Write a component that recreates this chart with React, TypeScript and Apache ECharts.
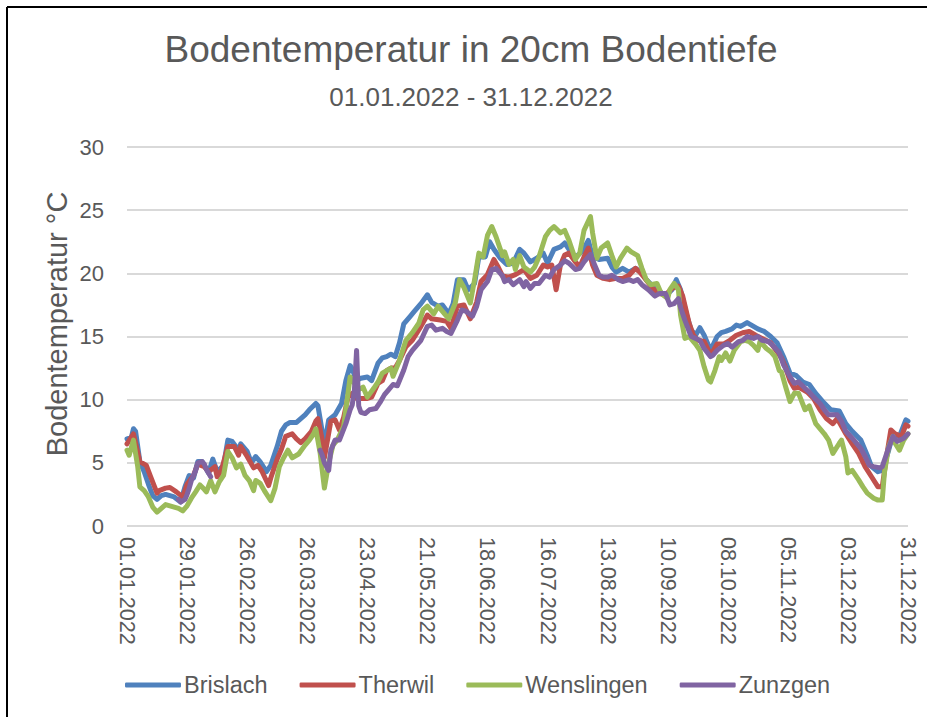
import React, { useEffect, useRef } from "react";
import * as echarts from "echarts";

const titleText = "Bodentemperatur in 20cm Bodentiefe";
const subtitleText = "01.01.2022 - 31.12.2022";
const yAxisName = "Bodentemperatur °C";
const seriesNames = ["Brislach", "Therwil", "Wenslingen", "Zunzgen"];
const seriesColors = ["#4F81BD", "#C0504D", "#9BBB59", "#8064A2"];
const yTicks = { min: 0, max: 30, interval: 5 };
const startDate = { year: 2022, month: 0, day: 1 };
const dayCount = 365;
const labelEvery = 28;

// [day index, temperature °C]
const brislach: [number, number][] = [
  [0, 6.9], [2, 7.0], [3, 7.7], [4, 7.5], [6, 5.1], [8, 4.3], [10, 3.3], [12, 2.4], [14, 2.1], [16, 2.4],
  [18, 2.5], [20, 2.4], [22, 2.3], [25, 1.9], [27, 3.1], [29, 4.0], [31, 3.8], [33, 5.1], [35, 5.1], [38, 4.2],
  [40, 5.3], [42, 4.3], [45, 4.8], [47, 6.8], [49, 6.7], [52, 6.0], [53, 6.5], [56, 5.9], [58, 5.0], [60, 5.5],
  [62, 5.1], [65, 4.3], [67, 4.8], [70, 6.3], [72, 7.5], [74, 8.0], [76, 8.2], [79, 8.2], [81, 8.5], [83, 8.8],
  [85, 9.2], [88, 9.7], [89, 9.5], [90, 8.5], [92, 6.4], [94, 8.4], [97, 8.8], [100, 9.7], [102, 11.5], [104, 12.7],
  [105, 12.4], [107, 11.5], [109, 11.7], [112, 11.8], [114, 11.5], [117, 12.9], [119, 13.3], [121, 13.4], [123, 13.6], [125, 13.4],
  [127, 14.5], [129, 16.0], [132, 16.6], [134, 17.0], [137, 17.6], [140, 18.3], [142, 17.7], [145, 17.4], [147, 17.5], [150, 16.8],
  [152, 17.6], [154, 19.5], [157, 19.5], [159, 18.7], [162, 19.2], [164, 21.3], [167, 21.3], [169, 22.5], [171, 21.9], [174, 21.2],
  [177, 20.7], [180, 20.8], [183, 21.9], [185, 21.6], [188, 20.9], [191, 21.2], [194, 21.6], [196, 20.8], [199, 21.9], [202, 22.1],
  [204, 22.4], [206, 21.9], [209, 21.3], [212, 21.7], [215, 22.6], [217, 21.3], [220, 21.1], [224, 21.2], [226, 20.5], [228, 20.1],
  [231, 20.4], [234, 20.1], [237, 20.4], [240, 20.0], [242, 19.5], [245, 19.0], [248, 18.6], [251, 18.2], [254, 18.7], [256, 19.5],
  [258, 18.7], [261, 16.6], [263, 15.5], [265, 15.1], [267, 15.7], [269, 15.1], [272, 13.9], [275, 15.0], [277, 15.3], [279, 15.4],
  [282, 15.6], [284, 15.9], [286, 15.8], [289, 16.1], [291, 15.9], [294, 15.6], [297, 15.4], [300, 15.0], [303, 14.5], [306, 13.4],
  [309, 12.1], [312, 11.9], [315, 11.4], [318, 11.2], [321, 10.5], [324, 9.9], [328, 9.2], [332, 9.1], [335, 8.1], [338, 7.5],
  [342, 6.8], [345, 5.6], [347, 4.7], [350, 4.3], [352, 4.4], [355, 6.0], [357, 7.3], [360, 7.1], [363, 8.4], [364, 8.3],
];

const therwil: [number, number][] = [
  [0, 6.5], [3, 7.3], [6, 5.1], [9, 4.8], [11, 3.9], [14, 2.6], [15, 2.8], [18, 3.0], [20, 3.05], [23, 2.7],
  [26, 2.3], [28, 3.3], [31, 4.0], [33, 4.9], [36, 4.7], [38, 4.3], [41, 4.7], [42, 3.9], [44, 4.4], [47, 6.3],
  [50, 6.3], [52, 5.6], [53, 6.3], [56, 5.5], [59, 4.6], [61, 4.8], [63, 4.3], [66, 3.2], [67, 3.8], [70, 5.3],
  [72, 6.1], [74, 7.1], [77, 7.3], [79, 6.9], [81, 6.6], [83, 6.9], [86, 7.5], [88, 8.3], [89, 8.5], [91, 6.8],
  [92, 5.4], [95, 8.3], [97, 8.4], [99, 7.6], [101, 8.6], [103, 10.2], [105, 10.5], [107, 10.1], [109, 10.1], [112, 10.1],
  [114, 10.2], [117, 11.3], [119, 11.5], [121, 12.3], [123, 12.5], [125, 12.5], [127, 13.1], [130, 14.2], [133, 14.7], [137, 15.8],
  [140, 16.7], [142, 16.4], [146, 16.3], [149, 16.2], [151, 15.65], [154, 17.4], [157, 17.5], [160, 16.4], [163, 17.75], [165, 19.35],
  [168, 19.9], [171, 21.1], [173, 20.5], [175, 19.8], [178, 19.7], [181, 19.9], [185, 20.3], [188, 19.6], [191, 19.85], [194, 20.65],
  [196, 20.5], [198, 20.65], [200, 18.7], [202, 20.65], [204, 21.45], [206, 21.6], [209, 20.9], [211, 20.5], [213, 21.3], [215, 22.0],
  [217, 20.65], [219, 19.85], [222, 19.6], [225, 19.5], [228, 19.6], [231, 19.6], [234, 19.85], [237, 20.4], [239, 20.1], [241, 19.7],
  [245, 18.8], [248, 18.4], [251, 18.3], [254, 18.8], [257, 19.0], [259, 18.2], [262, 16.05], [264, 15.1], [266, 14.7], [269, 14.6],
  [271, 13.9], [272, 13.5], [275, 14.4], [278, 14.4], [281, 14.7], [284, 15.1], [287, 15.3], [290, 15.4], [293, 15.1], [296, 14.85],
  [300, 14.5], [303, 13.8], [305, 13.3], [307, 12.5], [309, 11.5], [311, 10.9], [313, 11.0], [317, 10.6], [320, 10.1], [323, 9.2],
  [326, 8.5], [329, 8.1], [331, 8.5], [335, 7.3], [338, 6.5], [341, 5.75], [344, 4.7], [347, 3.9], [350, 3.1], [352, 3.1],
  [354, 5.5], [356, 7.6], [358, 7.3], [361, 7.1], [363, 8.0], [364, 7.9],
];

const wenslingen: [number, number][] = [
  [0, 6.0], [1, 5.6], [3, 6.8], [5, 4.7], [6, 3.1], [8, 2.8], [10, 2.3], [12, 1.5], [14, 1.1], [16, 1.4],
  [18, 1.7], [20, 1.6], [22, 1.5], [24, 1.4], [26, 1.2], [28, 1.6], [30, 2.2], [32, 2.7], [34, 3.25], [36, 2.9],
  [37, 2.7], [39, 3.6], [41, 2.7], [43, 3.5], [45, 4.0], [47, 5.9], [49, 5.4], [51, 4.6], [53, 4.9], [55, 4.0],
  [57, 3.6], [59, 2.8], [60, 3.6], [62, 3.4], [64, 2.8], [67, 2.0], [69, 3.0], [71, 4.7], [73, 5.4], [75, 6.0],
  [77, 5.4], [80, 5.7], [83, 6.4], [85, 6.8], [87, 7.3], [88, 7.7], [90, 5.8], [92, 3.0], [94, 5.0], [96, 6.4],
  [98, 6.8], [101, 7.9], [103, 10.5], [104, 11.8], [106, 11.3], [108, 10.8], [110, 11.0], [112, 10.2], [115, 10.9], [117, 11.4],
  [119, 12.1], [121, 12.3], [123, 12.5], [124, 11.85], [127, 13.1], [130, 14.7], [133, 15.3], [136, 16.05], [138, 17.1], [140, 17.4],
  [143, 16.8], [145, 17.4], [148, 16.8], [150, 16.4], [153, 17.65], [155, 19.5], [157, 18.9], [160, 17.65], [162, 19.5], [164, 21.6],
  [166, 21.3], [168, 23.0], [170, 23.7], [172, 22.9], [175, 21.4], [176, 21.7], [178, 20.7], [180, 21.1], [181, 20.3], [183, 21.4],
  [185, 20.5], [188, 20.1], [190, 20.5], [192, 21.3], [195, 22.9], [197, 23.4], [199, 23.7], [202, 23.2], [204, 23.4], [206, 22.6],
  [209, 21.1], [211, 21.6], [213, 23.4], [216, 24.5], [217, 23.2], [219, 21.2], [221, 22.0], [224, 22.4], [226, 21.4], [228, 20.5],
  [230, 21.2], [233, 22.0], [235, 21.7], [238, 21.4], [240, 20.4], [242, 19.5], [244, 19.1], [247, 19.2], [249, 18.4], [252, 18.0],
  [253, 18.7], [255, 19.2], [257, 18.7], [258, 16.7], [260, 14.85], [262, 15.0], [264, 14.6], [265, 14.4], [267, 13.9], [269, 12.6],
  [271, 11.55], [272, 11.4], [274, 12.3], [276, 13.4], [277, 13.1], [279, 13.7], [281, 13.05], [283, 13.9], [286, 14.6], [288, 14.7],
  [290, 14.6], [292, 14.3], [294, 13.9], [295, 14.6], [298, 14.05], [300, 13.8], [302, 13.4], [304, 12.3], [305, 12.2], [307, 11.0],
  [309, 9.85], [311, 10.5], [313, 10.5], [316, 9.2], [318, 9.5], [321, 8.1], [325, 7.3], [327, 6.8], [329, 5.75], [332, 6.55],
  [333, 6.8], [335, 5.5], [336, 4.2], [338, 4.4], [341, 3.65], [343, 3.1], [345, 2.6], [348, 2.2], [350, 2.05], [352, 2.05],
  [353, 4.2], [355, 6.3], [357, 7.1], [358, 6.55], [360, 6.0], [362, 6.8], [364, 7.3],
];

// Zunzgen has two measured stretches (gap in between)
const zunzgenWinter: [number, number][] = [
  [24, 2.1], [25, 1.9], [27, 2.1], [28, 2.5], [29, 3.0], [30, 3.6], [32, 4.4], [33, 5.0], [35, 5.1], [36, 4.9],
  [37, 4.5], [38, 4.2], [39, 3.9],
];
const zunzgenMain: [number, number][] = [
  [90, 6.0], [91, 5.6], [92, 5.0], [94, 4.4], [95, 6.0], [97, 6.8], [99, 6.8], [102, 8.1], [104, 9.2], [105, 9.6],
  [106, 10.8], [107, 13.9], [108, 9.5], [109, 9.0], [111, 8.9], [113, 9.2], [116, 9.3], [118, 9.8], [120, 10.4], [122, 10.8],
  [124, 11.2], [126, 11.1], [129, 12.35], [131, 13.4], [133, 13.9], [137, 14.7], [140, 15.8], [142, 15.9], [144, 15.5], [147, 15.65],
  [149, 15.4], [151, 15.25], [154, 16.3], [156, 17.1], [158, 17.0], [161, 16.6], [163, 17.4], [165, 18.7], [168, 19.35], [170, 20.3],
  [172, 20.4], [175, 19.8], [176, 19.35], [178, 19.5], [180, 19.1], [183, 19.5], [185, 18.95], [186, 19.35], [188, 18.8], [190, 19.2],
  [192, 19.2], [195, 19.85], [197, 19.7], [199, 20.3], [202, 20.65], [204, 21.0], [206, 20.8], [209, 20.3], [211, 20.4], [213, 20.9],
  [216, 21.5], [218, 20.65], [220, 19.85], [222, 19.7], [224, 19.7], [226, 19.85], [229, 19.5], [231, 19.35], [234, 19.5], [236, 19.35],
  [238, 19.5], [240, 19.1], [243, 18.7], [246, 18.2], [248, 18.4], [251, 18.4], [253, 17.5], [255, 17.6], [257, 18.0], [258, 17.3],
  [260, 16.3], [262, 15.4], [263, 15.0], [265, 14.85], [267, 14.7], [269, 14.05], [272, 13.4], [273, 13.5], [275, 13.9], [278, 14.3],
  [280, 14.45], [282, 14.15], [285, 14.6], [287, 14.7], [289, 15.0], [292, 14.85], [294, 15.0], [296, 14.7], [299, 14.6], [301, 14.3],
  [304, 13.7], [306, 12.75], [309, 11.8], [311, 11.3], [313, 11.4], [316, 10.9], [318, 10.6], [320, 10.2], [323, 9.7], [325, 9.2],
  [327, 8.8], [331, 8.8], [333, 8.3], [335, 7.5], [338, 6.95], [342, 6.15], [344, 5.5], [346, 4.8], [348, 4.7], [351, 4.6],
  [352, 4.7], [355, 6.2], [357, 7.1], [359, 6.7], [362, 6.95], [364, 7.3],
];
const zunzgenGapDay = 40;

function buildDates(): string[] {
  const out: string[] = [];
  const base = Date.UTC(startDate.year, startDate.month, startDate.day);
  for (let i = 0; i < dayCount; i++) {
    const d = new Date(base + i * 86400000);
    const dd = String(d.getUTCDate()).padStart(2, "0");
    const mm = String(d.getUTCMonth() + 1).padStart(2, "0");
    out.push(`${dd}.${mm}.${d.getUTCFullYear()}`);
  }
  return out;
}

const FONT = "'Liberation Sans', Arial, Helvetica, sans-serif";
const TEXT = "#595959";

export default function App() {
  const ref = useRef<HTMLDivElement>(null);

  useEffect(() => {
    if (!ref.current) return;
    const chart = echarts.init(ref.current, null, { renderer: "svg" });
    const dates = buildDates();
    const zunzgen: (number | null)[][] = [
      ...zunzgenWinter,
      [zunzgenGapDay, null],
      ...zunzgenMain,
    ];
    const seriesData = [brislach, therwil, wenslingen, zunzgen];

    chart.setOption({
      animation: false,
      backgroundColor: "#ffffff",
      textStyle: { fontFamily: FONT },
      color: seriesColors,
      grid: { left: 127, right: 19, top: 147, bottom: 191, containLabel: false },
      graphic: [
        {
          type: "line",
          shape: { x1: 7, y1: 7, x2: 927, y2: 7 },
          style: { stroke: "#000000", lineWidth: 2 },
          silent: true,
        },
        {
          type: "line",
          shape: { x1: 7, y1: 7, x2: 7, y2: 717 },
          style: { stroke: "#000000", lineWidth: 2 },
          silent: true,
        },
        {
          type: "text",
          x: 471,
          y: 49,
          style: {
            text: titleText,
            fill: TEXT,
            font: `37px ${FONT}`,
            textAlign: "center",
            textVerticalAlign: "middle",
          },
        },
        {
          type: "text",
          x: 471,
          y: 97,
          style: {
            text: subtitleText,
            fill: TEXT,
            font: `26px ${FONT}`,
            textAlign: "center",
            textVerticalAlign: "middle",
          },
        },
        {
          type: "text",
          x: 57,
          y: 324,
          rotation: Math.PI / 2,
          style: {
            text: yAxisName,
            fill: TEXT,
            font: `29px ${FONT}`,
            textAlign: "center",
            textVerticalAlign: "middle",
          },
        },
      ],
      legend: {
        data: seriesNames,
        left: 120,
        top: 668,
        icon: "roundRect",
        itemWidth: 56,
        itemHeight: 5,
        itemGap: 32,
        textStyle: { color: TEXT, fontSize: 23.5, fontFamily: FONT, padding: [0, 0, 0, -2] },
      },
      xAxis: {
        type: "category",
        data: dates,
        boundaryGap: false,
        axisLine: { show: false },
        axisTick: { show: false },
        splitLine: { show: false },
        axisLabel: {
          interval: labelEvery - 1,
          rotate: -90,
          margin: 11,
          color: TEXT,
          fontSize: 21.5,
          fontFamily: FONT,
        },
      },
      yAxis: {
        type: "value",
        min: yTicks.min,
        max: yTicks.max,
        interval: yTicks.interval,
        axisLine: { show: false },
        axisTick: { show: false },
        axisLabel: { color: TEXT, fontSize: 22, margin: 23, fontFamily: FONT },
        splitLine: { show: true, lineStyle: { color: "#D9D9D9", width: 2 } },
      },
      series: seriesNames.map((name, i) => ({
        name,
        type: "line",
        data: seriesData[i],
        showSymbol: false,
        symbol: "none",
        connectNulls: false,
        lineStyle: { width: 5, color: seriesColors[i], cap: "round", join: "round" },
        itemStyle: { color: seriesColors[i] },
      })),
    });

    return () => chart.dispose();
  }, []);

  return (
    <div
      ref={ref}
      style={{ position: "fixed", left: 0, top: 0, width: 927, height: 717, background: "#fff" }}
    />
  );
}
